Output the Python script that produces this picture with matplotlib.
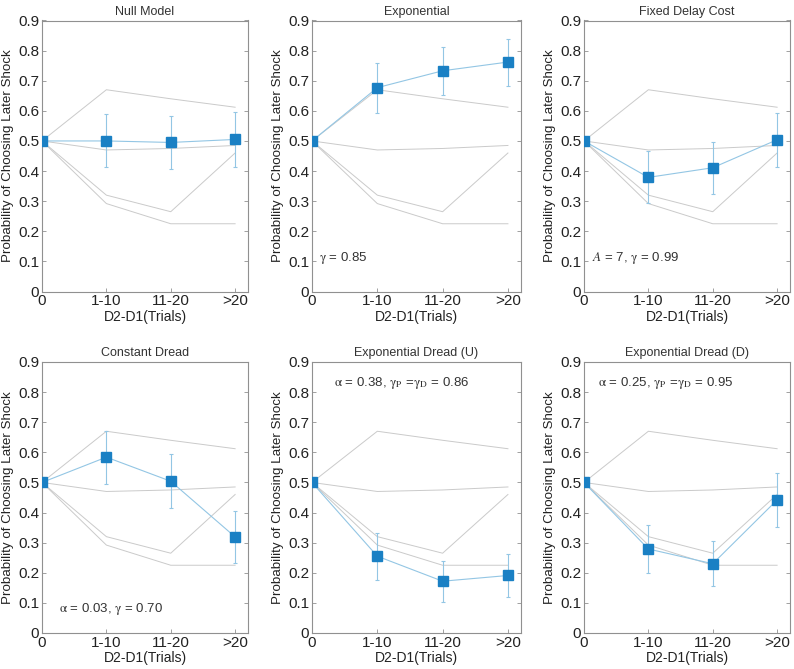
import matplotlib
matplotlib.use("Agg")
import matplotlib.pyplot as plt
import numpy as np

plt.rcParams['font.family'] = ['Liberation Sans', 'DejaVu Sans']
plt.rcParams['mathtext.fontset'] = 'stix'

x_labels = ['0', '1-10', '11-20', '>20']

# observed data (grey lines, same in every panel)
grey_lines = [
    [0.5, 0.670, 0.640, 0.612],
    [0.5, 0.470, 0.475, 0.485],
    [0.5, 0.320, 0.265, 0.460],
    [0.5, 0.292, 0.225, 0.225],
]

titles = ['Null Model', 'Exponential', 'Fixed Delay Cost',
          'Constant Dread', 'Exponential Dread (U)', 'Exponential Dread (D)']

null_vals = [0.5, 0.500, 0.495, 0.505]
null_err = [0, 0.088, 0.089, 0.090]
expo_vals = [0.5, 0.677, 0.733, 0.762]
expo_err = [0, 0.083, 0.079, 0.078]
fixed_vals = [0.5, 0.379, 0.411, 0.504]
fixed_err = [0, 0.086, 0.087, 0.090]
const_vals = [0.5, 0.584, 0.504, 0.319]
const_err = [0, 0.088, 0.089, 0.086]
expu_vals = [0.5, 0.255, 0.172, 0.191]
expu_err = [0, 0.078, 0.068, 0.072]
expd_vals = [0.5, 0.279, 0.230, 0.442]
expd_err = [0, 0.079, 0.075, 0.090]

model_vals = [null_vals, expo_vals, fixed_vals, const_vals, expu_vals, expd_vals]
model_errs = [null_err, expo_err, fixed_err, const_err, expu_err, expd_err]

notes = [None,
         r'$\mathrm{\gamma}$ = 0.85',
         r'$A$ = 7, $\mathrm{\gamma}$ = 0.99',
         r'$\mathrm{\alpha}$ = 0.03, $\mathrm{\gamma}$ = 0.70',
         r'$\mathrm{\alpha}$ = 0.38, $\mathrm{\gamma_P}$ =$\mathrm{\gamma_D}$ = 0.86',
         r'$\mathrm{\alpha}$ = 0.25, $\mathrm{\gamma_P}$ =$\mathrm{\gamma_D}$ = 0.95']
note_pos = [None, (0.1, 0.1), (0.12, 0.1), (0.27, 0.07), (0.33, 0.82), (0.22, 0.82)]

W, H = 794, 669
fig = plt.figure(figsize=(W / 100, H / 100), dpi=100)

lefts = [42, 312, 584]
widths = [206, 209, 206]
tops = [20.5, 362]
ax_h = 271

x = np.arange(4)
for i in range(6):
    r, c = divmod(i, 3)
    ax = fig.add_axes([lefts[c] / W, 1 - (tops[r] + ax_h) / H, widths[c] / W, ax_h / H])
    for g in grey_lines:
        ax.plot(x, g, color='#cacaca', lw=0.7, zorder=1)
    ax.errorbar(x, model_vals[i], yerr=model_errs[i], color='#93c6e4', lw=0.8,
                elinewidth=0.8, capsize=1.5, capthick=0.8, zorder=2)
    ax.plot(x, model_vals[i], ls='none', marker='s', ms=7, color='#1a80c4', zorder=3)
    ax.set_xlim(0, 3.2)
    ax.set_ylim(0, 0.9)
    ax.set_xticks(x)
    ax.set_xticklabels(x_labels)
    ax.set_yticks(np.arange(0, 0.91, 0.1))
    ax.set_yticklabels(['0'] + ['%.1f' % v for v in np.arange(0.1, 0.91, 0.1)])
    ax.tick_params(direction='in', length=3, width=0.6, colors='#909090',
                   labelcolor='#222222', labelsize=11, top=False, right=True, pad=2)
    for s in ax.spines.values():
        s.set_color('#909090')
        s.set_linewidth(0.8)
    ax.set_title(titles[i], fontsize=9, color='#333333', pad=4)
    ax.set_xlabel('D2-D1(Trials)', fontsize=10, color='#222222', labelpad=1)
    ax.set_ylabel('Probability of Choosing Later Shock', fontsize=9.6, color='#222222', labelpad=3)
    if notes[i]:
        ax.text(note_pos[i][0], note_pos[i][1], notes[i], fontsize=9.5, color='#333333')

fig.savefig('out.png', dpi=100)
